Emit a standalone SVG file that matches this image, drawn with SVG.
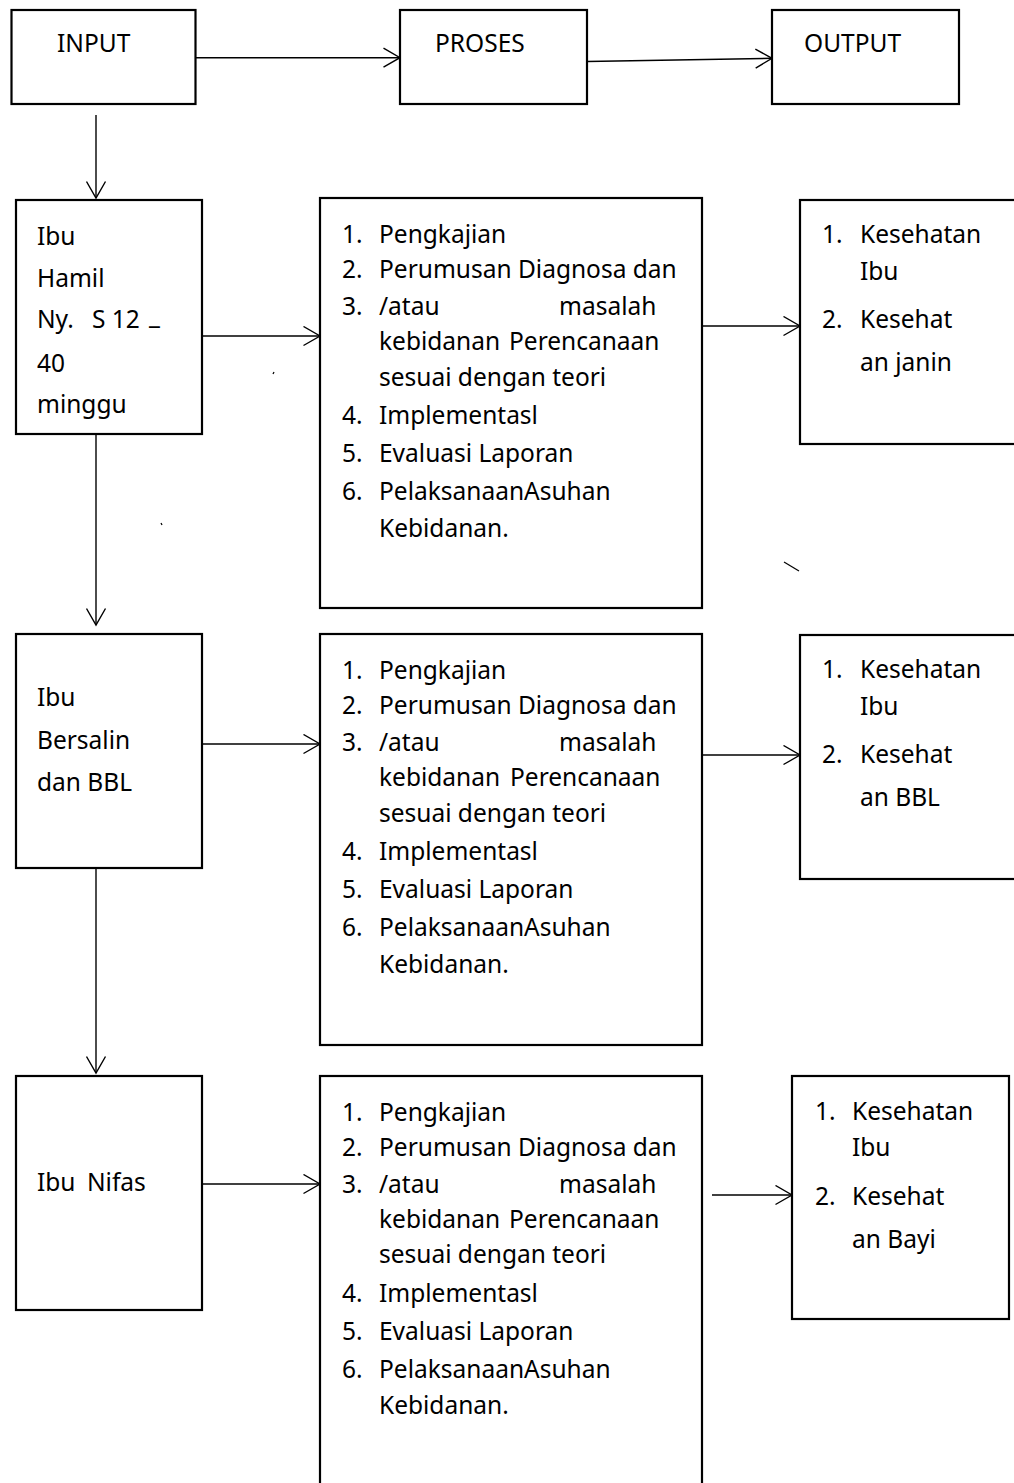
<svg xmlns="http://www.w3.org/2000/svg" width="1014" height="1483" viewBox="0 0 1014 1483">
<style>
.box{fill:#fff;stroke:#000;stroke-width:2.2}
.t{font-family:"Noto Sans","Open Sans",sans-serif;font-size:24.5px;fill:#000}
.c{fill:none;stroke:#000;stroke-width:1.4;marker-end:url(#arr)}
.m{fill:none;stroke:#000;stroke-width:1.2}
</style>
<defs>
<marker id="arr" markerUnits="userSpaceOnUse" viewBox="0 0 19 21" refX="17.5" refY="10.5" markerWidth="19" markerHeight="21" orient="auto">
<path d="M1,1 L17.5,10.5 L1,20" fill="none" stroke="#000" stroke-width="1.4"/>
</marker>
</defs>
<rect width="1014" height="1483" fill="#fff"/>

<g id="connectors">
<line class="c" x1="196" y1="57.7" x2="400" y2="57.7"/>
<line class="c" x1="587" y1="61.5" x2="772" y2="58.3"/>
<line class="c" x1="96" y1="115" x2="96" y2="198"/>
<line class="c" x1="96" y1="434" x2="96" y2="625"/>
<line class="c" x1="96" y1="868" x2="96" y2="1073"/>
<line class="c" x1="202" y1="336" x2="320" y2="336"/>
<line class="c" x1="702" y1="326" x2="800" y2="326"/>
<line class="c" x1="202" y1="744" x2="320" y2="744"/>
<line class="c" x1="702" y1="755" x2="800" y2="755"/>
<line class="c" x1="202" y1="1184" x2="320" y2="1184"/>
<line class="c" x1="712" y1="1195" x2="792" y2="1195"/>
</g>

<g id="input">
<rect class="box" x="11.5" y="10" width="184" height="94"/>
<text class="t" x="57" y="51.5">INPUT</text>
</g>
<g id="proses">
<rect class="box" x="400" y="10" width="187" height="94"/>
<text class="t" x="435" y="51.5">PROSES</text>
</g>
<g id="output">
<rect class="box" x="772" y="10" width="187" height="94"/>
<text class="t" x="804" y="51.5">OUTPUT</text>
</g>

<g id="ibu-hamil">
<rect class="box" x="16" y="200" width="186" height="234"/>
<text class="t" x="37" y="245">Ibu</text>
<text class="t" x="37" y="287">Hamil</text>
<text class="t" y="328"><tspan x="37">Ny.</tspan><tspan x="92">S 12</tspan><tspan x="149" dy="-4">_</tspan></text>
<text class="t" x="37" y="372">40</text>
<text class="t" x="37" y="413">minggu</text>
</g>

<g id="proses-hamil">
<rect class="box" x="320" y="198" width="382" height="410"/>
<text class="t" x="342" y="243">1.</text><text class="t" x="379" y="243">Pengkajian</text>
<text class="t" x="342" y="278">2.</text><text class="t" x="379" y="278">Perumusan Diagnosa dan</text>
<text class="t" x="342" y="315">3.</text><text class="t" y="315"><tspan x="379">/atau</tspan><tspan x="559">masalah</tspan></text>
<text class="t" y="350"><tspan x="379">kebidanan</tspan><tspan x="509">Perencanaan</tspan></text>
<text class="t" x="379" y="386">sesuai dengan teori</text>
<text class="t" x="342" y="424">4.</text><text class="t" x="379" y="424">Implementasl</text>
<text class="t" x="342" y="462">5.</text><text class="t" x="379" y="462">Evaluasi Laporan</text>
<text class="t" x="342" y="500">6.</text><text class="t" x="379" y="500">PelaksanaanAsuhan</text>
<text class="t" x="379" y="537">Kebidanan.</text>
</g>

<g id="output-hamil">
<rect class="box" x="800" y="200" width="220" height="244"/>
<text class="t" x="822" y="243">1.</text><text class="t" x="860" y="243">Kesehatan</text>
<text class="t" x="860" y="280">Ibu</text>
<text class="t" x="822" y="328">2.</text><text class="t" x="860" y="328">Kesehat</text>
<text class="t" x="860" y="371">an janin</text>
</g>

<g id="ibu-bersalin">
<rect class="box" x="16" y="634" width="186" height="234"/>
<text class="t" x="37" y="706">Ibu</text>
<text class="t" x="37" y="749">Bersalin</text>
<text class="t" x="37" y="791">dan BBL</text>
</g>

<g id="proses-bersalin">
<rect class="box" x="320" y="634" width="382" height="411"/>
<text class="t" x="342" y="679">1.</text><text class="t" x="379" y="679">Pengkajian</text>
<text class="t" x="342" y="714">2.</text><text class="t" x="379" y="714">Perumusan Diagnosa dan</text>
<text class="t" x="342" y="751">3.</text><text class="t" y="751"><tspan x="379">/atau</tspan><tspan x="559">masalah</tspan></text>
<text class="t" y="786"><tspan x="379">kebidanan</tspan><tspan x="510">Perencanaan</tspan></text>
<text class="t" x="379" y="822">sesuai dengan teori</text>
<text class="t" x="342" y="860">4.</text><text class="t" x="379" y="860">Implementasl</text>
<text class="t" x="342" y="898">5.</text><text class="t" x="379" y="898">Evaluasi Laporan</text>
<text class="t" x="342" y="936">6.</text><text class="t" x="379" y="936">PelaksanaanAsuhan</text>
<text class="t" x="379" y="973">Kebidanan.</text>
</g>

<g id="output-bersalin">
<rect class="box" x="800" y="635" width="220" height="244"/>
<text class="t" x="822" y="678">1.</text><text class="t" x="860" y="678">Kesehatan</text>
<text class="t" x="860" y="715">Ibu</text>
<text class="t" x="822" y="763">2.</text><text class="t" x="860" y="763">Kesehat</text>
<text class="t" x="860" y="806">an BBL</text>
</g>

<g id="ibu-nifas">
<rect class="box" x="16" y="1076" width="186" height="234"/>
<text class="t" y="1191"><tspan x="37">Ibu</tspan><tspan x="87">Nifas</tspan></text>
</g>

<g id="proses-nifas">
<rect class="box" x="320" y="1076" width="382" height="420"/>
<text class="t" x="342" y="1121">1.</text><text class="t" x="379" y="1121">Pengkajian</text>
<text class="t" x="342" y="1156">2.</text><text class="t" x="379" y="1156">Perumusan Diagnosa dan</text>
<text class="t" x="342" y="1193">3.</text><text class="t" y="1193"><tspan x="379">/atau</tspan><tspan x="559">masalah</tspan></text>
<text class="t" y="1228"><tspan x="379">kebidanan</tspan><tspan x="509">Perencanaan</tspan></text>
<text class="t" x="379" y="1263">sesuai dengan teori</text>
<text class="t" x="342" y="1302">4.</text><text class="t" x="379" y="1302">Implementasl</text>
<text class="t" x="342" y="1340">5.</text><text class="t" x="379" y="1340">Evaluasi Laporan</text>
<text class="t" x="342" y="1378">6.</text><text class="t" x="379" y="1378">PelaksanaanAsuhan</text>
<text class="t" x="379" y="1414">Kebidanan.</text>
</g>

<g id="output-nifas">
<rect class="box" x="792" y="1076" width="217" height="243"/>
<text class="t" x="815" y="1120">1.</text><text class="t" x="852" y="1120">Kesehatan</text>
<text class="t" x="852" y="1156">Ibu</text>
<text class="t" x="815" y="1205">2.</text><text class="t" x="852" y="1205">Kesehat</text>
<text class="t" x="852" y="1248">an Bayi</text>
</g>

<g id="marks">
<line class="m" x1="273" y1="374" x2="274" y2="372"/>
<line class="m" x1="161" y1="523" x2="162" y2="525"/>
<line class="m" x1="784" y1="562" x2="799" y2="571"/>
</g>
</svg>
